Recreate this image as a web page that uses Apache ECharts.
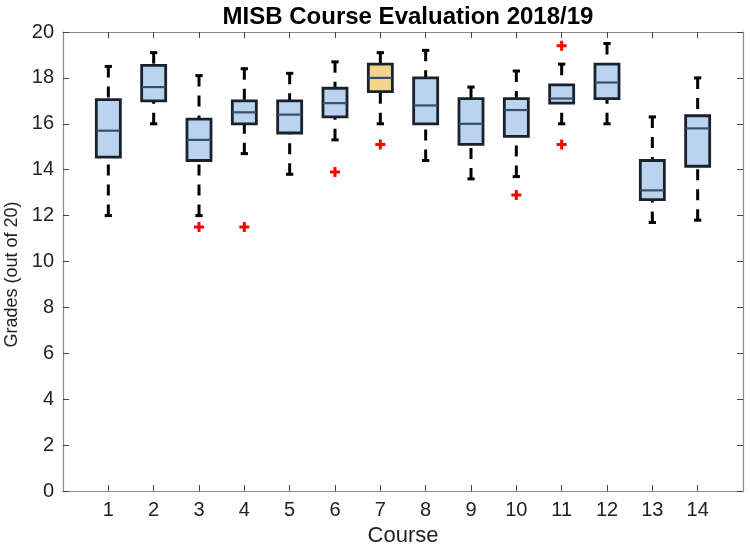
<!DOCTYPE html>
<html>
<head>
<meta charset="utf-8">
<script src="https://cdn.jsdelivr.net/npm/echarts@6/dist/echarts.min.js"></script>
<style>html,body{margin:0;padding:0;background:#fff}#c{width:750px;height:548px}</style>
</head>
<body>
<div id="c"></div>
<script>
const courses      = [1, 2, 3, 4, 5, 6, 7, 8, 9, 10, 11, 12, 13, 14];
const lowerWhisker = [12.0, 16.0, 12.0, 14.7, 13.8, 15.3, 16.0, 14.4, 13.6, 13.7, 16.0, 16.0, 11.7, 11.8];
const q1           = [14.55, 17.0, 14.4, 16.0, 15.6, 16.3, 17.4, 16.0, 15.1, 15.45, 16.9, 17.1, 12.7, 14.15];
const medians      = [15.7, 17.6, 15.3, 16.5, 16.4, 16.9, 18.0, 16.8, 16.0, 16.6, 17.1, 17.8, 13.1, 15.8];
const q3           = [17.05, 18.55, 16.2, 17.0, 17.0, 17.55, 18.6, 18.0, 17.1, 17.1, 17.7, 18.6, 14.4, 16.35];
const upperWhisker = [18.5, 19.1, 18.1, 18.4, 18.2, 18.7, 19.1, 19.2, 17.6, 18.3, 18.6, 19.5, 16.3, 18.0];
const highlighted  = [0, 0, 0, 0, 0, 0, 1, 0, 0, 0, 0, 0, 0, 0];
const outliers     = [[3, 11.5], [4, 11.5], [6, 13.9], [7, 15.1], [10, 12.9], [11, 19.4], [11, 15.1]];
const yTicks       = [0, 2, 4, 6, 8, 10, 12, 14, 16, 18, 20];

const boxData = courses.map((c, i) => [c, lowerWhisker[i], q1[i], medians[i], q3[i], upperWhisker[i], highlighted[i]]);

function renderItem(params, api) {
  const x = api.value(0);
  const lo = api.value(1), a = api.value(2), m = api.value(3), b = api.value(4), hi = api.value(5), hl = api.value(6);
  const unit = api.size([1, 0])[0];
  const hw = unit * 0.265, cw = unit * 0.08;
  const pLo = api.coord([x, lo]), pQ1 = api.coord([x, a]), pM = api.coord([x, m]), pQ3 = api.coord([x, b]), pHi = api.coord([x, hi]);
  const cx = pLo[0];
  const dashStyle = {stroke: '#000', lineWidth: 3, lineDash: [11, 9], fill: null};
  const solid = {stroke: '#000', lineWidth: 3, fill: null};
  return {
    type: 'group',
    children: [
      {type: 'line', shape: {x1: cx, y1: pHi[1], x2: cx, y2: pQ3[1]}, style: dashStyle},
      {type: 'line', shape: {x1: cx, y1: pLo[1], x2: cx, y2: pQ1[1]}, style: dashStyle},
      {type: 'line', shape: {x1: cx - cw, y1: pHi[1], x2: cx + cw, y2: pHi[1]}, style: solid},
      {type: 'line', shape: {x1: cx - cw, y1: pLo[1], x2: cx + cw, y2: pLo[1]}, style: solid},
      {type: 'rect', shape: {x: cx - hw, y: pQ3[1], width: 2 * hw, height: pQ1[1] - pQ3[1]},
        style: {fill: hl ? '#f4d48c' : '#bcd3ef', stroke: '#18222c', lineWidth: 2.8}},
      {type: 'line', shape: {x1: cx - hw, y1: pM[1], x2: cx + hw, y2: pM[1]}, style: {stroke: '#34506e', lineWidth: 2.2}}
    ]
  };
}

const font = 'Liberation Sans, Arial, Helvetica, sans-serif';
const axisLineStyle = {show: true, onZero: false, lineStyle: {color: '#8a8a8a', width: 1.2}};
const tickStyle = {color: '#444', width: 1};
const chart = echarts.init(document.getElementById('c'), null, {renderer: 'canvas'});
chart.setOption({
  animation: false,
  backgroundColor: '#fff',
  title: {text: 'MISB Course Evaluation 2018/19', left: 403, top: 0, textAlign: 'center',
    textStyle: {fontFamily: font, fontWeight: 'bold', fontSize: 24, color: '#000'}},
  grid: {left: 63, right: 7, top: 32, bottom: 57, containLabel: false, outerBoundsMode: 'none'},
  xAxis: [
    {type: 'value', min: 0, max: 15, interval: 1, name: 'Course', nameLocation: 'middle', nameGap: 20,
      nameTextStyle: {fontFamily: font, fontSize: 22, color: '#222'},
      axisLine: axisLineStyle,
      axisTick: {show: true, inside: true, length: 6, lineStyle: tickStyle, customValues: courses},
      axisLabel: {fontFamily: font, fontSize: 20, color: '#222', margin: 9, customValues: courses},
      splitLine: {show: false}},
    {type: 'value', position: 'top', min: 0, max: 15, interval: 1,
      axisLine: axisLineStyle,
      axisTick: {show: true, inside: true, length: 6, lineStyle: tickStyle, customValues: courses},
      axisLabel: {show: false}, splitLine: {show: false}}
  ],
  yAxis: [
    {type: 'value', min: 0, max: 20, interval: 2, name: 'Grades (out of 20)', nameLocation: 'middle', nameGap: 42,
      nameTextStyle: {fontFamily: font, fontSize: 18, color: '#222', padding: [0, 26, 0, 0]},
      axisLine: axisLineStyle,
      axisTick: {show: true, inside: true, length: 6, lineStyle: tickStyle, customValues: yTicks},
      axisLabel: {fontFamily: font, fontSize: 20, color: '#222', margin: 9, customValues: yTicks},
      splitLine: {show: false}},
    {type: 'value', position: 'right', min: 0, max: 20, interval: 2,
      axisLine: axisLineStyle,
      axisTick: {show: true, inside: true, length: 6, lineStyle: tickStyle, customValues: yTicks},
      axisLabel: {show: false}, splitLine: {show: false}}
  ],
  series: [
    {type: 'custom', xAxisIndex: 0, yAxisIndex: 0, renderItem: renderItem, data: boxData,
      encode: {x: 0, y: [1, 2, 3, 4, 5]}, z: 2},
    {type: 'scatter', xAxisIndex: 0, yAxisIndex: 0, data: outliers,
      symbol: 'path://M3.5,0H6.5V3.5H10V6.5H6.5V10H3.5V6.5H0V3.5H3.5Z', symbolSize: 10,
      itemStyle: {color: '#f00', opacity: 1}, z: 3}
  ]
});
</script>
</body>
</html>
